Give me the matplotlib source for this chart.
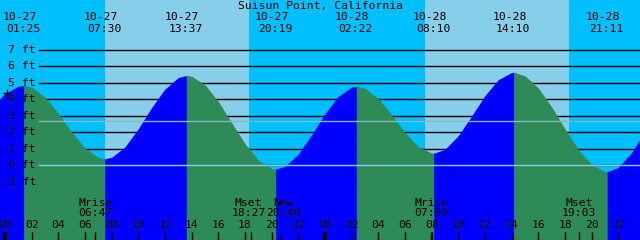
import matplotlib
matplotlib.use('Agg')
import matplotlib.pyplot as plt

TITLE = 'Suisun Point, California'

# hourly tide heights (ft): 10-27 -01:00 .. 10-29 00:00
hours = list(range(-1, 49))
heights = [3.46, 4.31, 4.75, 4.70, 4.10, 3.10, 1.97, 0.99, 0.44, 0.45,
           1.07, 2.17, 3.45, 4.58, 5.28, 5.36, 4.83, 3.82, 2.53, 1.26,
           0.27, -0.23, -0.10, 0.64, 1.80, 3.08, 4.14, 4.70, 4.63, 4.00,
           3.02, 1.94, 1.09, 0.71, 0.93, 1.75, 2.94, 4.18, 5.15, 5.59,
           5.39, 4.64, 3.49, 2.15, 0.91, 0.00, -0.41, -0.17, 0.72, 2.01]

# high / low tide table
tide_dates = ['10-27', '10-27', '10-27', '10-27',
              '10-28', '10-28', '10-28', '10-28']
tide_times = ['01:25', '07:30', '13:37', '20:19',
              '02:22', '08:10', '14:10', '21:11']
tide_heights = [4.80, 0.36, 5.41, -0.26, 4.75, 0.70, 5.60, -0.42]

# sunrise, sunset, sunrise, sunset
sun_dates = ['10-27', '10-27', '10-28', '10-28']
sun_times = ['07:30', '18:18', '07:31', '18:17']

moon_labels = ['Mrise', 'Mset', 'New', 'Mrise', 'Mset']
moon_dates = ['10-27', '10-27', '10-27', '10-28', '10-28']
moon_times = ['06:47', '18:27', '20:40', '07:59', '19:03']

ft_levels = [7, 6, 5, 4, 3, 2, 1, 0, -1]
mean_level = 2.68
now_date = '10-27'
now_time = '00:08'
now_height = 4.35

NIGHT = '#00BFFF'
DAY = '#87CEEB'
RISING = '#0000FF'
FALLING = '#2E8B57'
FONT = {'family': 'DejaVu Sans Mono', 'size': 8.2, 'color': 'black'}


def to_hours(date, time):
    '''
    to_hours turns a 'MM-DD' date and 'HH:MM' time into hours after
    10-27 00:00.
    '''
    day = int(date[-2:]) - 27
    hh, mm = time.split(':')
    return day * 24 + int(hh) + int(mm) / 60


def px_x(px):
    # horizontal pixel -> axes fraction
    return px / 640


def px_y(px):
    # vertical pixel from top -> axes fraction
    return 1 - px / 240


fig = plt.figure(figsize=(6.4, 2.4), dpi=100)
ax = fig.add_axes([0, 0, 1, 1])
ax.set_xlim(-0.375, 47.625)
ax.set_ylim(-4.545, 10.0)
ax.axis('off')
xtrans = ax.get_xaxis_transform()
ytrans = ax.get_yaxis_transform()

# day / night sky
sun_x = [to_hours(d, t) for d, t in zip(sun_dates, sun_times)]
edges = [-1] + sun_x + [49]
for i in range(0, len(edges) - 1):
    ax.axvspan(
        edges[i],
        edges[i + 1],
        color=NIGHT if i % 2 == 0 else DAY,
        lw=0,
        zorder=0)

# foot lines
for lvl in ft_levels:
    ax.axhline(
        lvl,
        xmin=px_x(39),
        xmax=1,
        color='black',
        lw=1,
        zorder=1)
    ax.text(
        px_x(36),
        lvl,
        f'{lvl} ft',
        transform=ytrans,
        ha='right',
        va='center',
        zorder=5,
        **FONT)

# tide curve, blue while rising, green while falling
tide_x = [to_hours(d, t) for d, t in zip(tide_dates, tide_times)]
points = sorted(zip(hours + tide_x, heights + tide_heights))
bounds = [hours[0]] + tide_x + [hours[-1]]
for a, b in zip(bounds[:-1], bounds[1:]):
    seg = [(t, h) for t, h in points if a <= t <= b]
    ts = [p[0] for p in seg]
    hs = [p[1] for p in seg]
    colour = RISING if hs[-1] > hs[0] else FALLING
    ax.fill_between(
        ts,
        hs,
        -5,
        color=colour,
        lw=0.4,
        zorder=2)

# zero and mean level lines
ax.axhline(0, xmin=px_x(39), xmax=1, color=DAY, lw=1, zorder=3)
ax.axhline(mean_level, xmin=px_x(39), xmax=1, color='#86b8c0', lw=1,
           zorder=3)

ax.plot(
    to_hours(now_date, now_time),
    now_height,
    marker='+',
    ms=6,
    mew=1,
    color='black',
    zorder=4)

# tide time labels
for x, d, t in zip(tide_x, tide_dates, tide_times):
    ax.text(x - 0.32, px_y(17), d, transform=xtrans, ha='center',
            va='center', zorder=5, **FONT)
    ax.text(x - 0.05, px_y(29), t, transform=xtrans, ha='center',
            va='center', zorder=5, **FONT)

# moon events
moon_x = [to_hours(d, t) for d, t in zip(moon_dates, moon_times)]
nudge = [0, -0.2, 0.2, 0, 0]
for x, lab, t, n in zip(moon_x, moon_labels, moon_times, nudge):
    ax.text(x + n, px_y(202.5), lab, transform=xtrans, ha='center',
            va='center', zorder=5, **FONT)
    ax.text(x + n, px_y(213), t, transform=xtrans, ha='center',
            va='center', zorder=5, **FONT)
    ax.vlines(x, 0, px_y(232), transform=xtrans, color='black', lw=1,
              zorder=5)

# hour axis along the bottom
for h in range(0, 50, 2):
    ax.text(h, px_y(225.5), f'{h % 24:02d}', transform=xtrans,
            ha='center', va='center', zorder=5, **FONT)
    ax.vlines(h, 0, px_y(232), transform=xtrans, color='black',
              lw=3 if h % 24 == 0 else 1, zorder=5)

fig.text(0.5, px_y(6), TITLE, ha='center', va='center', **FONT)

fig.savefig('out.png', dpi=100)
plt.close(fig)
